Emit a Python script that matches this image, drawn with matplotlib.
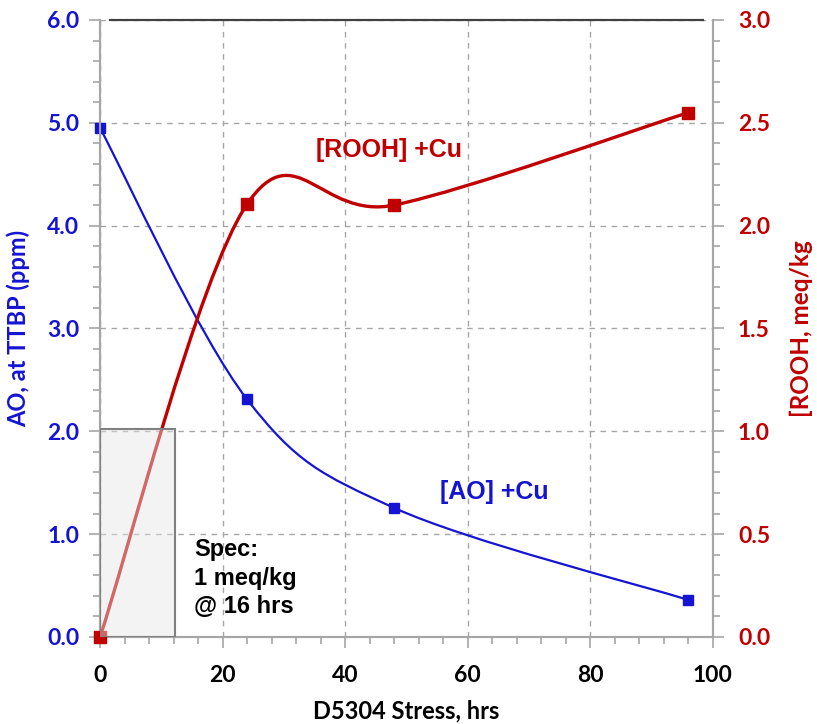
import matplotlib
matplotlib.use("Agg")
import matplotlib.pyplot as plt
from matplotlib.path import Path
from matplotlib.patches import PathPatch, Rectangle
from matplotlib.ticker import MultipleLocator

# data
hours = [0, 24, 48, 96]
ao_ppm = [4.95, 2.31, 1.255, 0.36]        # left axis
rooh_meq = [0.0, 2.105, 2.10, 2.55]       # right axis
spec_hours = 12.2
spec_top = 2.02                           # left-axis units

blue = "#1414D2"
red = "#C00000"
grid_col = "#a6a6a6"
tick_font = "Lato"
note_font = "Liberation Sans"


def smooth_path(xs, ys):
    # Excel-like smoothed line: cubic bezier through the points
    verts = [(xs[0], ys[0])]
    codes = [Path.MOVETO]
    n = len(xs)
    for i in range(n - 1):
        x0, y0 = (xs[i - 1], ys[i - 1]) if i > 0 else (xs[i], ys[i])
        x1, y1 = xs[i], ys[i]
        x2, y2 = xs[i + 1], ys[i + 1]
        x3, y3 = (xs[i + 2], ys[i + 2]) if i + 2 < n else (x2, y2)
        c1 = (x1 + (x2 - x0) / 6, y1 + (y2 - y0) / 6)
        c2 = (x2 - (x3 - x1) / 6, y2 - (y3 - y1) / 6)
        verts += [c1, c2, (x2, y2)]
        codes += [Path.CURVE4] * 3
    return Path(verts, codes)


fig = plt.figure(figsize=(8.17, 7.24), dpi=100)
ax = fig.add_axes([0.1224, 0.1202, 0.7503, 0.8522])
ax2 = ax.twinx()

# curves
ax.add_patch(PathPatch(smooth_path(hours, ao_ppm), fill=False, edgecolor=blue, lw=1.6, zorder=3))
ax.plot(hours, ao_ppm, ls="none", marker="s", ms=7.5, color=blue, clip_on=False, zorder=4)
ax2.add_patch(PathPatch(smooth_path(hours, rooh_meq), fill=False, edgecolor=red, lw=2.4, zorder=3))
ax2.plot(hours, rooh_meq, ls="none", marker="s", ms=8.5, color=red, clip_on=False, zorder=4)

# spec box, over the red line
ax2.add_patch(Rectangle((0, 0), spec_hours, spec_top, transform=ax.transData,
                        facecolor=(0.9, 0.9, 0.9, 0.45), edgecolor="#808080", lw=1.5, zorder=5))

ax.set_xlim(0, 100)
ax.set_ylim(0, 6)
ax2.set_ylim(0, 3)

ax.xaxis.set_major_locator(MultipleLocator(20))
ax.xaxis.set_minor_locator(MultipleLocator(4))
ax.yaxis.set_major_locator(MultipleLocator(1))
ax.yaxis.set_minor_locator(MultipleLocator(0.2))
ax2.yaxis.set_major_locator(MultipleLocator(0.5))
ax2.yaxis.set_minor_locator(MultipleLocator(0.1))
ax.yaxis.set_major_formatter(matplotlib.ticker.FormatStrFormatter("%.1f"))
ax2.yaxis.set_major_formatter(matplotlib.ticker.FormatStrFormatter("%.1f"))

ax.grid(True, which="major", color=grid_col, ls=(0, (4, 4)), lw=1)
ax.set_axisbelow(True)

for a in (ax, ax2):
    for s in ("left", "right", "bottom"):
        a.spines[s].set_color(grid_col)
        a.spines[s].set_linewidth(1.5)
    a.spines["top"].set_color("#404040")
    a.spines["top"].set_linewidth(1.5)
    a.spines["top"].set_bounds(1.6, 98.4)
    a.tick_params(which="major", length=8, width=1.2, color=grid_col, direction="out")
    a.tick_params(which="minor", length=5, width=1.2, color=grid_col, direction="out")

ax.tick_params(axis="x", labelsize=16.5, pad=12, labelcolor="black")
ax.tick_params(axis="y", labelsize=16.5, pad=7, labelcolor=blue)
ax2.tick_params(axis="y", labelsize=16.5, pad=10, labelcolor=red)
for lab in ax.get_xticklabels() + ax.get_yticklabels() + ax2.get_yticklabels():
    lab.set_fontfamily(tick_font)
    lab.set_fontweight("bold")

ax.set_xlabel("D5304 Stress, hrs", fontsize=17, fontweight="bold", family=tick_font, labelpad=10)
ax.set_ylabel("AO, at TTBP (ppm)", fontsize=17, fontweight="bold", family=tick_font, color=blue, labelpad=12)
ax2.set_ylabel("[ROOH, meq/kg", fontsize=17.5, fontweight="bold", family=tick_font, color=red, labelpad=14)

ax.text(35.2, 4.74, "[ROOH] +Cu", fontsize=18, fontweight="bold", family=note_font, color=red, va="center")
ax.text(55.5, 1.41, "[AO] +Cu", fontsize=18, fontweight="bold", family=note_font, color=blue, va="center")
ax.text(15.3, 0.57, "Spec:\n1 meq/kg\n@ 16 hrs", fontsize=17, fontweight="bold", family=note_font,
        color="black", va="center", linespacing=1.3, zorder=6)

fig.savefig("out.png", dpi=100)
